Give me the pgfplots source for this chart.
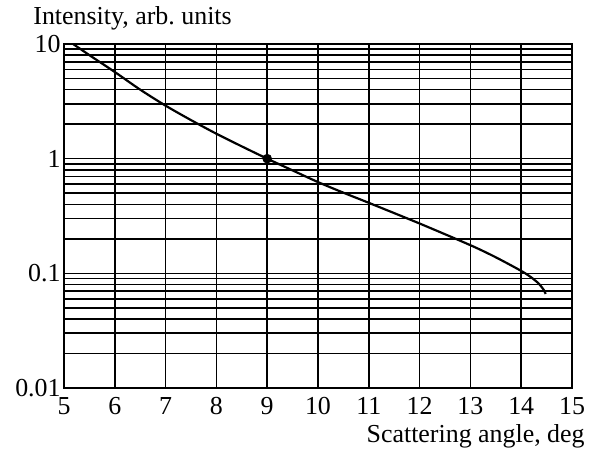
\documentclass[border=0pt]{standalone}
\usepackage{fontspec}
\setmainfont{Liberation Serif}
\usepackage{pgfplots}
\pgfplotsset{compat=1.18}
\begin{document}
\begin{tikzpicture}[font=\fontsize{13}{15}\selectfont]
\useasboundingbox (-32bp,-31.5bp) rectangle (265bp,194bp);
\begin{axis}[
  at={(0,0)}, anchor=south west,
  scale only axis,
  width=254bp, height=172bp,
  ymode=log,
  xmin=5, xmax=15, ymin=0.01, ymax=10,
  xtick={5,6,...,15},
  ytick={0.01,0.1,1,10},
  yticklabels={0.01,0.1,1,10},
  minor ytick={0.02,0.03,0.04,0.05,0.06,0.07,0.08,0.09,
               0.2,0.3,0.4,0.5,0.6,0.7,0.8,0.9,
               2,3,4,5,6,7,8,9},
  grid=both,
  major grid style={black, line width=0.8pt},
  minor grid style={black, line width=0.8pt},
  axis line style={black, line width=0.9pt},
  major tick length=0pt, minor tick length=0pt,
  tick label style={font=\fontsize{13}{15}\selectfont},
  /pgf/number format/assume math mode=true,
  yticklabel style={inner xsep=1.5bp},
  xticklabel style={inner ysep=4.5bp},
  clip=false,
]
\addplot[black, line width=1.1pt, smooth, tension=0.5] coordinates {
  (5.18,10) (5.5,8.0) (6,5.7) (6.5,4.0) (7,2.9) (7.5,2.17) (8,1.65)
  (8.5,1.28) (9,1.0) (9.5,0.79) (10,0.625) (10.5,0.505) (11,0.412)
  (12,0.272) (13,0.176) (13.5,0.138) (14,0.105) (14.2,0.092)
  (14.35,0.081) (14.45,0.071) (14.48,0.066)
};
\addplot[only marks, mark=*, mark size=2.2pt, black] coordinates {(9,1)};
\end{axis}
\node[anchor=base west, inner sep=0pt] at (-15.5bp,181.5bp) {Intensity, arb.\ units};
\node[anchor=base east, inner sep=0pt] at (260.5bp,-27bp) {Scattering angle, deg};
\end{tikzpicture}
\end{document}
